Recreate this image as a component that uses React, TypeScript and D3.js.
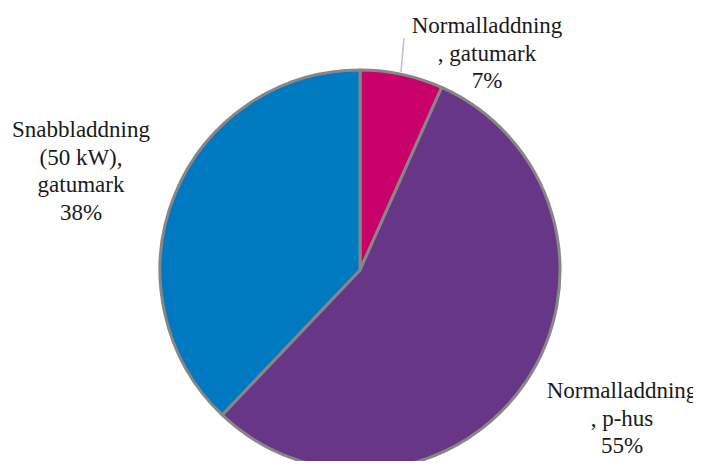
import React from "react";
import * as d3 from "d3";

const categories = ["Normalladdning, gatumark", "Normalladdning, p-hus", "Snabbladdning (50 kW), gatumark"];
const values = [6.7, 55.4, 37.9];
const colors = ["#c8006a", "#683686", "#0079c1"];
const labelLines = [
  ["Normalladdning", ", gatumark"],
  ["Normalladdning", ", p-hus"],
  ["Snabbladdning", "(50 kW),", "gatumark"],
];
const labelPos = [
  { x: 487, y: 33 },
  { x: 622, y: 398 },
  { x: 81, y: 137 },
];

const FONT = "Liberation Serif, Tinos, Times New Roman, serif";

export default function App() {
  const W = 701, H = 469;
  const cx = 360, cy = 270, r = 200;
  const total = d3.sum(values);
  const pie = d3.pie<number>().sort(null).value((d) => d)(values);
  const arc = d3.arc<d3.PieArcDatum<number>>().innerRadius(0).outerRadius(r);
  const lh = 27.5;
  const texts: { t: string; x: number; y: number }[] = [];
  labelLines.forEach((lines, i) => {
    const all = [...lines, `${Math.round((values[i] / total) * 100)}%`];
    all.forEach((t, j) => texts.push({ t, x: labelPos[i].x, y: Math.round(labelPos[i].y + j * lh) }));
  });
  return (
    <div style={{ margin: -8 }}>
      <svg width={W} height={H} style={{ display: "block" }}>
        <rect width={W} height={H} fill="#fff" />
        <g transform={`translate(${cx},${cy})`}>
          {pie.map((p, i) => (
            <path key={i} d={arc(p) || ""} fill={colors[i]} stroke="#878787" strokeWidth={3} strokeLinejoin="round" />
          ))}
        </g>
        <line x1={404} y1={38} x2={401} y2={72} stroke="#c9b6dd" strokeWidth={1.5} />
        {texts.map((d, k) => (
          <text key={k} x={d.x} y={d.y} fontSize={23} style={{ fontFamily: FONT }} fill="#1a1a1a" textAnchor="middle">
            {d.t}
          </text>
        ))}
      </svg>
    </div>
  );
}
